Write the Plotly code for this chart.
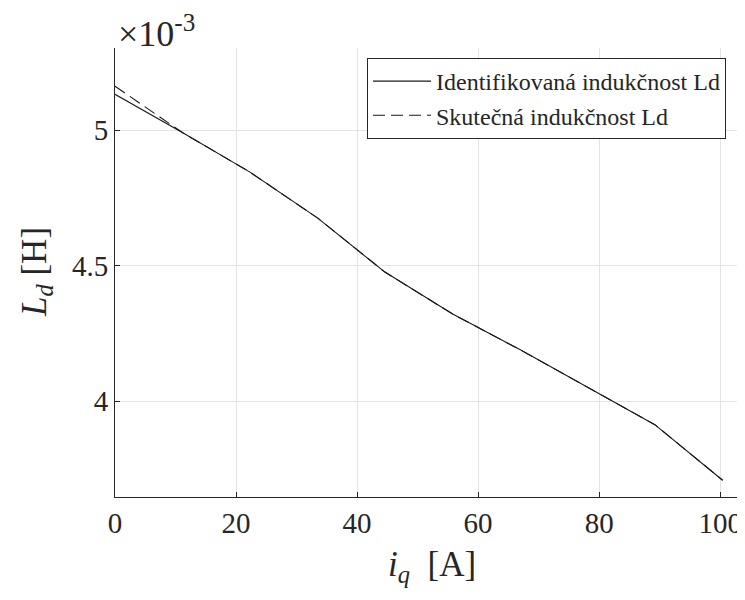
import plotly.graph_objects as go

# Data (iq in A, inductance in units of 1e-3 H)
iq = [0, 11.2, 22.3, 33.5, 44.6, 55.8, 66.9, 78.1, 89.2, 100.4]
ld_identified = [5.132, 4.990, 4.845, 4.675, 4.476, 4.321, 4.190, 4.050, 3.913, 3.708]
ld_true = [5.162, 4.990, 4.845, 4.675, 4.476, 4.321, 4.190, 4.050, 3.913, 3.708]

x_ticks = [0, 20, 40, 60, 80, 100]
y_ticks = [4, 4.5, 5]
y_tick_labels = ["4", "4.5", "5"]

FONT = "'Liberation Serif', 'Times New Roman', serif"
OFF = 8  # page body margin offset
W, H = 745 - OFF, 600 - OFF
ML, MR, MT, MB = 115 - OFF, 0, 48 - OFF, 103

fig = go.Figure()
fig.add_trace(go.Scatter(x=iq, y=ld_identified, mode="lines",
                         name="Identifikovaná indukčnost Ld",
                         line=dict(color="#1a1a1a", width=1.1)))
fig.add_trace(go.Scatter(x=iq, y=ld_true, mode="lines",
                         name="Skutečná indukčnost Ld",
                         line=dict(color="#1a1a1a", width=1.1, dash="12px,6px")))

plot_h = H - MT - MB
plot_w = W - ML - MR
def py(pix):
    return (H - MB - (pix - OFF)) / plot_h
def px(pix):
    return ((pix - OFF) - ML) / plot_w

fig.update_layout(
    template="none",
    width=W, height=H,
    margin=dict(l=ML, r=MR, t=MT, b=MB, autoexpand=False),
    paper_bgcolor="white", plot_bgcolor="white",
    font=dict(family=FONT, color="#262626"),
    showlegend=True,
    legend=dict(x=px(726), xanchor="right", y=py(58), yanchor="top",
                bordercolor="#262626", borderwidth=1, bgcolor="white",
                font=dict(family=FONT, size=24, color="#262626"),
                tracegroupgap=0, itemwidth=58),
    xaxis=dict(range=[0, 104.1], tickvals=x_ticks, ticks="inside", ticklen=5,
               tickcolor="#262626", showgrid=True, gridcolor="#e3e3e3", gridwidth=1,
               showline=True, linecolor="#262626", linewidth=1, zeroline=False,
               automargin=False,
               tickfont=dict(family=FONT, size=29, color="#262626")),
    yaxis=dict(range=[3.646, 5.303], tickvals=y_ticks, ticktext=y_tick_labels,
               ticks="inside", ticklen=5, tickcolor="#262626",
               showgrid=True, gridcolor="#e3e3e3", gridwidth=1,
               showline=True, linecolor="#262626", linewidth=1, zeroline=False,
               automargin=False,
               tickfont=dict(family=FONT, size=29, color="#262626")),
    annotations=[
        dict(text="×10<sup>-3</sup>", xref="paper", yref="paper", x=px(116), y=py(31),
             xanchor="left", yanchor="middle", showarrow=False,
             font=dict(family=FONT, size=36, color="#262626")),
        dict(text="<i>i</i><sub><i>q</i></sub>  [A]", xref="paper", yref="paper",
             x=px(432), y=py(566), xanchor="center", yanchor="middle",
             showarrow=False, font=dict(family=FONT, size=35, color="#262626")),
        dict(text="<i>L</i><sub><i>d</i></sub> [H]", xref="paper", yref="paper",
             x=px(36), y=py(272), xanchor="center", yanchor="middle",
             textangle=-90, showarrow=False,
             font=dict(family=FONT, size=35, color="#262626")),
    ],
)

fig.write_html("out.html")
